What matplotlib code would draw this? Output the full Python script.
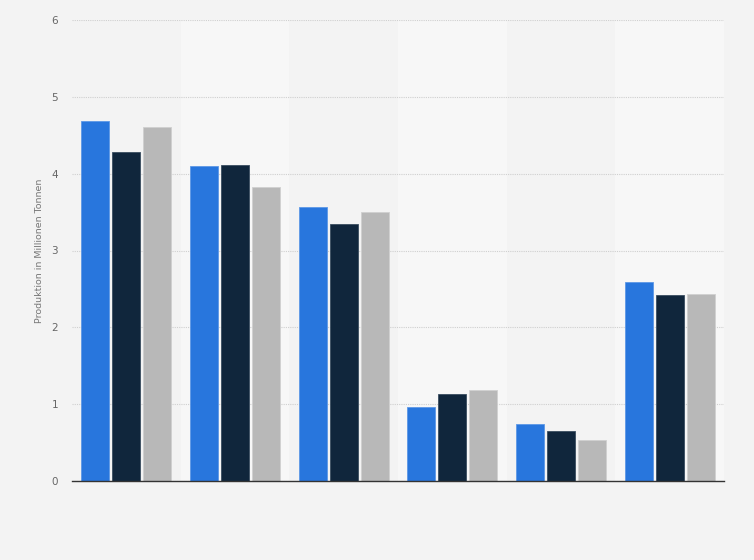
import matplotlib
matplotlib.use("Agg")
import matplotlib.pyplot as plt
import numpy as np

categories = ["A", "B", "C", "D", "E", "F"]
series_names = ["Serie 1", "Serie 2", "Serie 3"]
serie1 = [4.69, 4.10, 3.57, 0.96, 0.74, 2.59]
serie2 = [4.28, 4.11, 3.35, 1.13, 0.65, 2.42]
serie3 = [4.61, 3.83, 3.50, 1.19, 0.53, 2.44]
yticks = [0, 1, 2, 3, 4, 5, 6]
ylabel = "Produktion in Millionen Tonnen"

colors = ["#2876dd", "#10263c", "#b8b8b8"]
edges = ["#5d98e6", "#3a4d60", "#d0d0d0"]

fig = plt.figure(figsize=(7.54, 5.6), dpi=100)
fig.patch.set_facecolor("#f3f3f3")
ax = fig.add_axes([72/754, 79/560, 652/754, 461/560])
ax.set_facecolor("#f3f3f3")

n = len(categories)
x = np.arange(n)
ax.set_xlim(-0.5, n - 0.5)
ax.set_ylim(0, 6)

# alternating column bands
for i in range(n):
    if i % 2 == 1:
        ax.axvspan(i - 0.5, i + 0.5, color="#f7f7f7", zorder=0, lw=0)

width = 0.258
step = 0.285
for k, vals in enumerate([serie1, serie2, serie3]):
    ax.bar(x + (k - 1) * step, vals, width=width, color=colors[k],
           edgecolor=edges[k], linewidth=0.6, zorder=3, label=series_names[k])

ax.set_yticks(yticks)
ax.set_yticklabels([str(t) for t in yticks])
ax.yaxis.grid(True, linestyle=(0, (1, 1)), color="#cfcfcf", linewidth=0.8, zorder=1)
ax.set_axisbelow(True)
ax.set_xticks([])
ax.tick_params(axis="y", length=0, pad=10, labelsize=7.5, labelcolor="#666666")
for s in ["top", "right", "left"]:
    ax.spines[s].set_visible(False)
ax.spines["bottom"].set_color("#333333")
ax.spines["bottom"].set_linewidth(1.0)
ax.spines["bottom"].set_zorder(5)

ax.set_ylabel(ylabel, fontsize=6.8, color="#777777", labelpad=0)
ax.yaxis.set_label_coords(-28/652, 0.5)

fig.savefig("out.png", dpi=100, facecolor=fig.get_facecolor())
